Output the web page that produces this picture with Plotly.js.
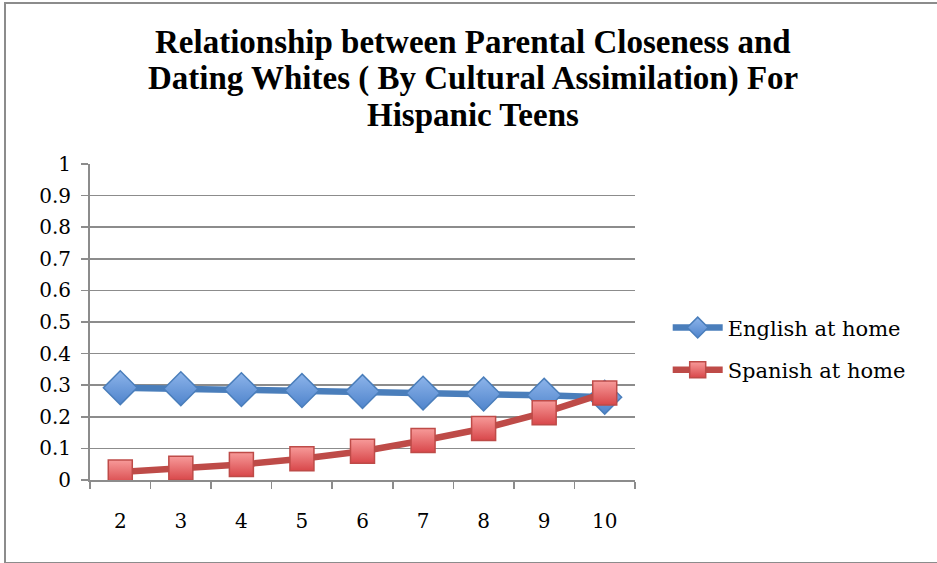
<!DOCTYPE html>
<html>
<head>
<meta charset="utf-8">
<script src="https://cdn.plot.ly/plotly-3.0.1.min.js"></script>
<style>
  html, body { margin: 0; padding: 0; background: #fff; }
  #frame { position: absolute; left: 0; top: 0; width: 937px; height: 563px; overflow: hidden; }
  #border {
    position: absolute; left: 4px; top: 2px; width: 960px; height: 558px;
    border-left: 2px solid #8c8c8c; border-top: 2px solid #8c8c8c; border-bottom: 2px solid #8c8c8c;
    pointer-events: none;
  }
  #chart { position: absolute; left: 0; top: 0; width: 937px; height: 563px; }
</style>
</head>
<body>
<div id="frame">
  <div id="chart"></div>
  <div id="border"></div>
</div>
<script>
// Parental closeness score (category axis)
const closeness = ['2', '3', '4', '5', '6', '7', '8', '9', '10'];

// Predicted probability of dating whites, by language spoken at home
const englishAtHome = [0.292, 0.289, 0.286, 0.283, 0.280, 0.275, 0.272, 0.268, 0.262];
const spanishAtHome = [0.025, 0.037, 0.049, 0.067, 0.091, 0.125, 0.163, 0.213, 0.275];

const seriesNames = ['English at home', 'Spanish at home'];
const yTicks = [0, 0.1, 0.2, 0.3, 0.4, 0.5, 0.6, 0.7, 0.8, 0.9, 1];

// Chart title, one entry per line
const titleLines = [
  'Relationship between Parental Closeness and',
  'Dating Whites ( By Cultural Assimilation) For',
  'Hispanic Teens'
];

const serif = 'DejaVu Serif, serif';
const titleFont = 'Liberation Serif, Times New Roman, serif';

const traces = [
  {
    x: closeness, y: englishAtHome, name: seriesNames[0], legendgroup: 'en',
    type: 'scatter', mode: 'lines+markers',
    line: { color: '#4a7ebb', width: 6.5 },
    marker: {
      symbol: 'diamond', size: 26, color: '#8db4ea',
      gradient: { type: 'vertical', color: '#4f84cc' },
      line: { color: '#4a7ebb', width: 1.5 }
    }
  },
  {
    x: closeness, y: spanishAtHome, name: seriesNames[1], legendgroup: 'es',
    type: 'scatter', mode: 'lines+markers',
    line: { color: '#be4b48', width: 6.5 },
    marker: {
      symbol: 'square', size: 24, color: '#f79a99',
      gradient: { type: 'vertical', color: '#d8474a' },
      line: { color: '#be4b48', width: 1.5 }
    }
  }
];

// Title lines placed individually (tighter line spacing than a <br> title)
const titleY = [1.386, 1.272, 1.155];
const annotations = titleLines.map((t, i) => ({
  text: '<b>' + t + '</b>',
  xref: 'paper', yref: 'paper',
  x: 0.702, xanchor: 'center',
  y: titleY[i], yanchor: 'middle',
  showarrow: false,
  font: { family: titleFont, size: 33, color: '#000' }
}));

const layout = {
  width: 937, height: 563,
  margin: { l: 90, r: 302, t: 164, b: 83 },
  paper_bgcolor: '#ffffff', plot_bgcolor: '#ffffff',
  showlegend: true,
  annotations: annotations,
  xaxis: {
    type: 'category',
    range: [-0.5, 8.5],
    showgrid: false, zeroline: false,
    showline: true, linecolor: '#8c8c8c', linewidth: 2,
    ticks: 'outside', tickson: 'boundaries', ticklen: 7, tickcolor: '#8c8c8c', tickwidth: 1.5,
    ticklabelstandoff: 22,
    tickfont: { family: serif, size: 20, color: '#000' },
    fixedrange: true
  },
  yaxis: {
    range: [0, 1],
    tickvals: yTicks,
    ticktext: yTicks.map(v => String(v)),
    showgrid: true, gridcolor: '#8c8c8c', gridwidth: 1.5,
    zeroline: false,
    showline: true, linecolor: '#8c8c8c', linewidth: 2,
    ticks: 'outside', ticklen: 7, tickcolor: '#8c8c8c', tickwidth: 1.5,
    ticklabelstandoff: 6,
    tickfont: { family: serif, size: 20, color: '#000' },
    fixedrange: true
  },
  legend: {
    x: 1.06, xanchor: 'left', y: 0.415, yanchor: 'middle',
    font: { family: serif, size: 21, color: '#000' },
    itemwidth: 50, tracegroupgap: 12,
    bgcolor: 'rgba(0,0,0,0)'
  }
};

Plotly.newPlot('chart', traces, layout, { displayModeBar: false, staticPlot: true });
</script>
</body>
</html>
